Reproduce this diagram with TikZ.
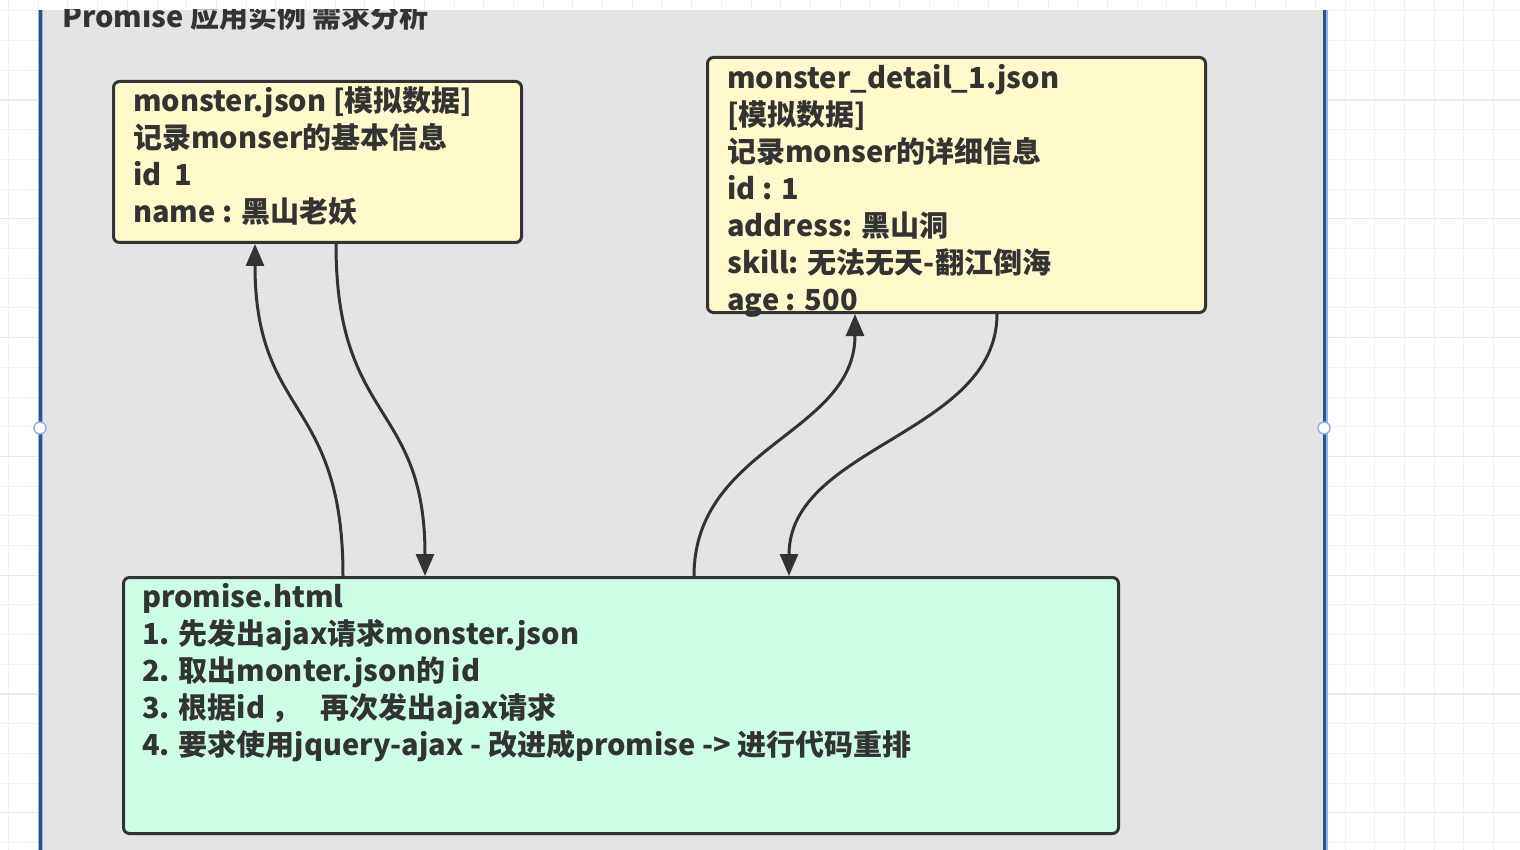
\documentclass[tikz,border=0pt]{standalone}
\usepackage{fontspec}
\setmainfont{Noto Sans CJK SC}
\usetikzlibrary{arrows.meta, calc, positioning}
\definecolor{cPanel}{HTML}{E4E4E4}
\definecolor{cGrid}{HTML}{F1F1F1}
\definecolor{cGridMajor}{HTML}{E9E9E9}
\definecolor{cInk}{HTML}{333333}
\definecolor{cYellow}{HTML}{FFF9CC}
\definecolor{cMint}{HTML}{CCFFE6}
\definecolor{cBlueDark}{HTML}{2B5287}
\definecolor{cBlueLight}{HTML}{8DB4E8}
\tikzset{
	gridline/.style={draw=cGrid, line width=1pt},
	gridmajor/.style={draw=cGridMajor, line width=1.2pt},
	panelside/.style={draw=cBlueDark, line width=3pt},
	handle/.style={circle, draw=cBlueLight, fill=white, line width=1.5pt, minimum size=12pt, inner sep=0pt},
	jsonbox/.style={rectangle, rounded corners=6pt, draw=cInk, line width=3pt, fill=cYellow},
	htmlbox/.style={rectangle, rounded corners=6pt, draw=cInk, line width=3pt, fill=cMint},
	boxtext/.style={anchor=north west, inner sep=0pt, align=left, text=cInk, font=\fontsize{29}{37}\selectfont\bfseries},
	titletext/.style={anchor=north west, inner sep=0pt, text=cInk, font=\fontsize{29}{37}\selectfont\bfseries},
	flow/.style={draw=cInk, line width=3pt, -{Triangle[length=22pt,width=18pt]}},
}
\begin{document}
\begin{tikzpicture}[x=1pt,y=-1pt]
	\useasboundingbox (0,0) rectangle (1520,850);
	% canvas grid
	\fill[white] (0,0) rectangle (1520,850);
	\foreach \k in {0,...,51}
		\draw[gridline] (8.5+29.7*\k,0) -- (8.5+29.7*\k,850);
	\foreach \k in {0,...,28}
		\draw[gridline] (0,10.9+29.7*\k) -- (1520,10.9+29.7*\k);
	\foreach \k in {3,7,...,27}
		\draw[gridmajor] (0,10.9+29.7*\k) -- (1520,10.9+29.7*\k);
	% container
	\fill[cPanel] (40,10) rectangle (1325,850);
	\begin{scope}
		\clip (40,10) rectangle (1325,850);
		\node[titletext] (title) at (62,2) {Promise 应用实例 需求分析};
	\end{scope}
	\draw[cBlueLight, line width=5pt] (40,10) -- (40,850) (1325,10) -- (1325,850);
	\draw[panelside] (40,10) -- (40,850) (1324,10) -- (1324,850);
	\node[handle] (lefthandle) at (40,428) {};
	\node[handle] (righthandle) at (1324,428) {};

	% data files
	\node[jsonbox, minimum width=408, minimum height=161, anchor=north west] (monster) at (112,80) {};
	\node[boxtext] (monstertext) at (133,86) {monster.json {[}模拟数据{]}\\记录monser的基本信息\\id\ \ 1\\name : 黑山老妖};

	\node[jsonbox, minimum width=498, minimum height=255, anchor=north west] (detail) at (706,56) {};
	\node[boxtext] (detailtext) at (727,64) {monster\_detail\_1.json\\{[}模拟数据{]}\\记录monser的详细信息\\id : 1\\address: 黑山洞\\skill: 无法无天-翻江倒海\\age : 500};

	% page
	\node[htmlbox, minimum width=995, minimum height=256, anchor=north west] (promise) at (122,576) {};
	\node[boxtext] (promisetext) at (142,583) {promise.html\\1. 先发出ajax请求monster.json\\2. 取出monter.json的 id\\3. 根据id ，\ \ \ 再次发出ajax请求\\4. 要求使用jquery-ajax\ -\ 改进成promise\ ->\ 进行代码重排};

	% requests
	\draw[flow] ($(promise.north west)+(221,0)$) .. controls +(0,-180) and +(0,175) .. ($(monster.south west)+(143,0)$);
	\draw[flow] ($(monster.south west)+(224,0)$) .. controls +(0,180) and +(0,-175) .. ($(promise.north west)+(303,0)$);
	\draw[flow] ($(promise.north west)+(572,0)$) .. controls +(0,-130) and +(0,120) .. ($(detail.south west)+(149,0)$);
	\draw[flow] ($(detail.south west)+(291,0)$) .. controls +(0,120) and +(0,-130) .. ($(promise.north west)+(667,0)$);
\end{tikzpicture}
\end{document}
